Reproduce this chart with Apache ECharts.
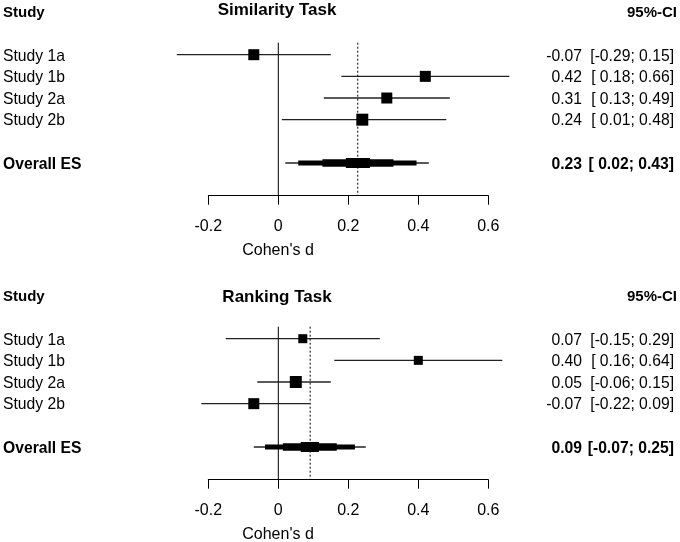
<!DOCTYPE html>
<html>
<head>
<meta charset="utf-8">
<script src="https://cdn.jsdelivr.net/npm/echarts@6/dist/echarts.min.js"></script>
<style>
html,body{margin:0;padding:0;background:#fff;}
#chart{width:680px;height:542px;}
</style>
</head>
<body>
<div id="chart"></div>
<script>
// ---------- data ----------
const studies = ["Study 1a", "Study 1b", "Study 2a", "Study 2b"];
const overallLabel = "Overall ES";
const panelTitles = ["Similarity Task", "Ranking Task"];
const xTicks = [-0.2, 0, 0.2, 0.4, 0.6];

// Similarity Task
const simEst = [-0.07, 0.42, 0.31, 0.24];
const simLo  = [-0.29, 0.18, 0.13, 0.01];
const simHi  = [0.15, 0.66, 0.49, 0.48];
const simPooledEst = 0.227;
const simPooledLo  = 0.02;
const simPooledHi  = 0.43;
const simBandLo = [0.057, 0.126, 0.193];
const simBandHi = [0.395, 0.329, 0.262];

// Ranking Task
const rankEst = [0.07, 0.40, 0.05, -0.07];
const rankLo  = [-0.15, 0.16, -0.06, -0.22];
const rankHi  = [0.29, 0.64, 0.15, 0.09];
const rankPooledEst = 0.091;
const rankPooledLo  = -0.07;
const rankPooledHi  = 0.25;
const rankBandLo = [-0.038, 0.013, 0.064];
const rankBandHi = [0.219, 0.167, 0.116];

// ---------- styles ----------
const FONT = '"Liberation Sans", Arial, Helvetica, sans-serif';
const simBoxPx = [11, 11, 11, 12];
const rankBoxPx = [9, 9, 12, 11];
const bandPx = [5, 7.5, 10];
const Y_MIN = -0.554, Y_MAX = 6.51;
const OVERALL_ROW = 5;
const PANEL_OFFSET = 284;

function fmt2(v){ return v.toFixed(2); }
function fmtLo(v){ return v < 0 ? v.toFixed(2) : ' ' + v.toFixed(2); }

function textEl(x, y, text, align, size, bold){
  return {
    type: 'text', x: x, y: y,
    style: {
      text: text, align: align, textAlign: align,
      verticalAlign: 'middle', textVerticalAlign: 'middle',
      fontSize: size, fontFamily: FONT, fontWeight: bold ? 'bold' : 'normal',
      fill: '#000'
    }
  };
}

function panelSeries(p, est, lo, hi, pEst, pLo, pHi, bLo, bHi, boxPx){
  const ax = {xAxisIndex: p, yAxisIndex: p};
  const series = [];
  // zero line
  series.push(Object.assign({
    type: 'custom', silent: true, animation: false, z: 1,
    data: [[0]],
    encode: {x: 0},
    renderItem: function(params, api){
      const a = api.coord([api.value(0), Y_MIN]);
      const b = api.coord([api.value(0), Y_MAX]);
      return {type: 'line', shape: {x1: a[0], y1: a[1], x2: b[0], y2: b[1]},
              style: {stroke: '#000', lineWidth: 1}};
    }
  }, ax));
  // study rows
  const rows = est.map((e, i) => [e, i, lo[i], hi[i]]);
  series.push(Object.assign({
    type: 'custom', silent: true, animation: false, z: 2,
    data: rows,
    encode: {x: [0, 2, 3], y: 1},
    renderItem: function(params, api){
      const r = api.value(1);
      const p0 = api.coord([api.value(2), r]);
      const p1 = api.coord([api.value(3), r]);
      const pc = api.coord([api.value(0), r]);
      const s = boxPx[params.dataIndex];
      return {type: 'group', children: [
        {type: 'line', shape: {x1: p0[0], y1: p0[1], x2: p1[0], y2: p1[1]},
         style: {stroke: '#222', lineWidth: 1.3}},
        {type: 'rect', shape: {x: pc[0] - s/2, y: pc[1] - s/2, width: s, height: s},
         style: {fill: '#000'}}
      ]};
    }
  }, ax));
  // overall row
  series.push(Object.assign({
    type: 'custom', silent: true, animation: false, z: 2,
    data: [[pEst, OVERALL_ROW, pLo, pHi]],
    encode: {x: [0, 2, 3], y: 1},
    renderItem: function(params, api){
      const r = api.value(1);
      const p0 = api.coord([api.value(2), r]);
      const p1 = api.coord([api.value(3), r]);
      const children = [
        {type: 'line', shape: {x1: p0[0], y1: p0[1], x2: p1[0], y2: p1[1]},
         style: {stroke: '#222', lineWidth: 1.3}}
      ];
      for (let k = 0; k < bLo.length; k++){
        const a = api.coord([bLo[k], r]);
        const b = api.coord([bHi[k], r]);
        const h = bandPx[k];
        children.push({type: 'rect',
          shape: {x: a[0], y: a[1] - h/2, width: b[0] - a[0], height: h},
          style: {fill: '#000'}});
      }
      return {type: 'group', children: children};
    }
  }, ax));
  // pooled dotted line
  series.push(Object.assign({
    type: 'custom', silent: true, animation: false, z: 3,
    data: [[pEst]],
    encode: {x: 0},
    renderItem: function(params, api){
      const a = api.coord([api.value(0), Y_MIN]);
      const b = api.coord([api.value(0), Y_MAX]);
      return {type: 'line', shape: {x1: a[0], y1: a[1], x2: b[0], y2: b[1]},
              style: {stroke: '#000', lineWidth: 1, lineDash: [2, 2]}};
    }
  }, ax));
  // text columns
  const labelRows = studies.map((s, i) => [est[i], i, lo[i], hi[i], 0]);
  labelRows.push([pEst, OVERALL_ROW, pLo, pHi, 1]);
  series.push(Object.assign({
    type: 'custom', silent: true, animation: false, z: 4,
    data: labelRows,
    encode: {x: 0, y: 1},
    renderItem: function(params, api){
      const r = api.value(1);
      const bold = api.value(4) === 1;
      const y = api.coord([0, r])[1] + 1.5;
      const name = bold ? overallLabel : studies[params.dataIndex];
      const ci = '[' + fmtLo(api.value(2)) + '; ' + fmt2(api.value(3)) + ']';
      return {type: 'group', children: [
        textEl(3, y, name, 'left', 15.7, bold),
        textEl(582, y, fmt2(api.value(0)), 'right', 15.7, bold),
        textEl(674, y, ci, 'right', 15.7, bold)
      ]};
    }
  }, ax));
  return series;
}

function xAxisFor(p){
  return {
    type: 'value', gridIndex: p, min: xTicks[0], max: xTicks[xTicks.length - 1],
    interval: 0.2, position: 'bottom',
    axisLine: {show: true, onZero: false, lineStyle: {color: '#000', width: 1}},
    axisTick: {show: true, length: 9, inside: false, lineStyle: {color: '#000', width: 1}},
    axisLabel: {show: true, margin: 23, fontSize: 16, fontFamily: FONT, color: '#000',
      formatter: function(v){ return String(+(+v).toFixed(1)); }},
    splitLine: {show: false}
  };
}
function yAxisFor(p){
  return {type: 'value', gridIndex: p, inverse: true, min: Y_MIN, max: Y_MAX, show: false};
}

function headerText(x, y, text, align, size, bold){
  return {type: 'text', x: x, y: y,
    style: {text: text, fontSize: size, fontWeight: bold ? 'bold' : 'normal', fontFamily: FONT, fill: '#000',
      align: align, textAlign: align, verticalAlign: 'middle', textVerticalAlign: 'middle'}};
}

const graphics = [];
[0, 1].forEach(function(p){
  const off = p * PANEL_OFFSET;
  graphics.push(headerText(3, 13.3 + off, 'Study', 'left', 15, true));
  graphics.push(headerText(277, (p === 0 ? 10 : 297), panelTitles[p], 'center', 17, true));
  graphics.push(headerText(677, 13.3 + off, '95%-CI', 'right', 15, true));
  graphics.push(headerText(278, 250.7 + off, "Cohen's d", 'center', 16, false));
});

const option = {
  animation: false,
  backgroundColor: '#fff',
  grid: [
    {left: 208.3, width: 280, top: 42.7, height: 153},
    {left: 208.3, width: 280, top: 42.7 + PANEL_OFFSET, height: 153}
  ],
  xAxis: [xAxisFor(0), xAxisFor(1)],
  yAxis: [yAxisFor(0), yAxisFor(1)],
  graphic: graphics,
  series: [].concat(
    panelSeries(0, simEst, simLo, simHi, simPooledEst, simPooledLo, simPooledHi, simBandLo, simBandHi, simBoxPx),
    panelSeries(1, rankEst, rankLo, rankHi, rankPooledEst, rankPooledLo, rankPooledHi, rankBandLo, rankBandHi, rankBoxPx)
  )
};

const chart = echarts.init(document.getElementById('chart'), null, {renderer: 'canvas'});
chart.setOption(option);
</script>
</body>
</html>
